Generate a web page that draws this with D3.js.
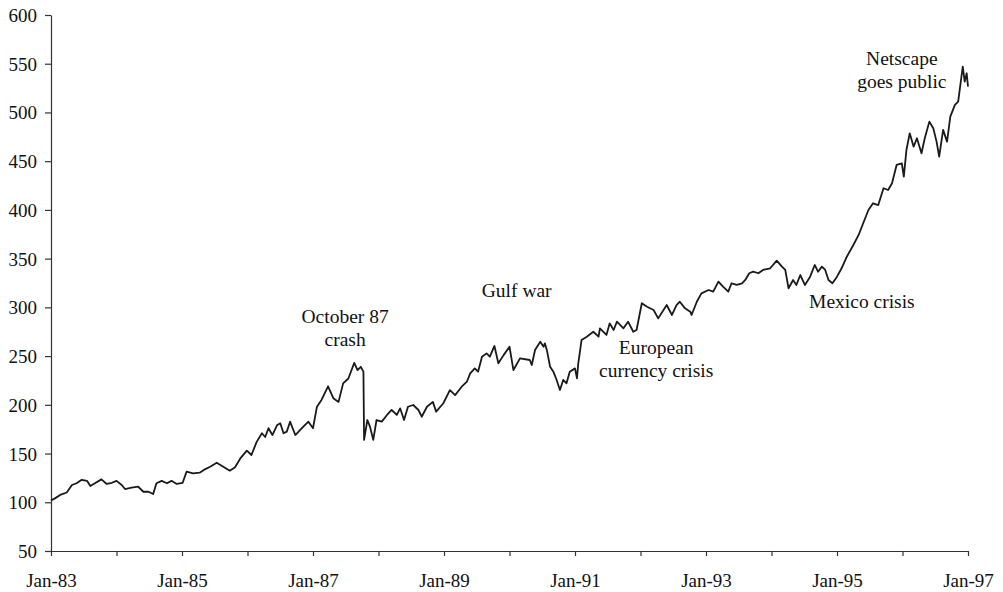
<!DOCTYPE html>
<html>
<head>
<meta charset="utf-8">
<script src="https://cdn.jsdelivr.net/npm/d3@7"></script>
<style>
  html, body { margin: 0; padding: 0; background: #fff; }
  svg text { font-family: "Liberation Serif", "Times New Roman", serif; fill: #111; }
</style>
</head>
<body>
<svg id="chart" width="1003" height="592"></svg>
<script>
// Decimal years
const dates = [
  1983.00,1983.06,1983.14,1983.24,1983.32,1983.39,1983.47,1983.55,1983.60,1983.67,
  1983.77,1983.85,1983.93,1984.00,1984.08,1984.13,1984.23,1984.33,1984.41,1984.49,
  1984.56,1984.61,1984.69,1984.77,1984.84,1984.92,1985.01,1985.07,1985.17,1985.27,
  1985.35,1985.43,1985.53,1985.63,1985.73,1985.81,1985.89,1985.99,1986.06,1986.14,
  1986.22,1986.27,1986.32,1986.38,1986.45,1986.50,1986.55,1986.60,
  1986.65,1986.73,1986.83,1986.93,1987.00,1987.06,1987.13,1987.23,1987.31,1987.39,
  1987.46,1987.54,1987.63,1987.68,1987.73,1987.77,1987.78,1987.83,1987.87,1987.92,
  1987.97,1988.05,1988.13,1988.20,1988.28,1988.33,1988.39,1988.45,1988.53,1988.61,
  1988.66,1988.74,1988.83,1988.88,1988.99,1989.09,1989.17,1989.27,1989.35,1989.40,
  1989.47,1989.52,1989.58,1989.65,1989.70,1989.77,1989.83,1989.91,1990.00,
  1990.06,1990.16,1990.31,1990.34,1990.39,1990.47,1990.52,1990.54,1990.57,1990.62,
  1990.67,1990.72,1990.77,1990.82,1990.87,1990.92,1991.00,1991.03,1991.05,1991.10,
  1991.18,1991.28,1991.36,1991.38,1991.48,1991.53,1991.59,1991.64,1991.74,1991.81,
  1991.89,1991.94,1992.02,1992.10,1992.20,1992.27,1992.40,1992.48,1992.55,1992.60,
  1992.68,1992.76,1992.78,1992.86,1992.93,1993.04,1993.11,1993.19,1993.26,1993.34,
  1993.39,1993.47,1993.55,1993.60,1993.66,
  1993.72,1993.80,1993.87,1993.98,1994.08,1994.16,1994.21,1994.26,1994.33,1994.38,
  1994.44,1994.51,1994.59,1994.66,1994.71,1994.77,1994.82,1994.87,1994.93,1995.00,
  1995.07,1995.15,1995.25,1995.33,1995.40,1995.48,1995.55,1995.63,1995.71,1995.78,
  1995.84,1995.91,1995.99,1996.02,1996.06,1996.11,1996.17,1996.22,1996.29,1996.34,
  1996.41,1996.47,1996.52,1996.56,1996.62,1996.68,1996.73,1996.80,1996.85,1996.92,
  1996.95,1996.98,1997.00
];
const values = [
  102,104,107.5,110,117.7,119.5,123,122,116.7,119.5,
  123.5,118.8,120,122,117.7,113.6,115,116,110.8,110.8,
  108.5,119.5,122,119.5,122,118.8,120,131.4,129.7,130.4,
  133.8,136.5,140.6,136.5,132.4,135.9,145,153,148.5,162,
  170.8,167,176,169,179,181,170.8,172.5,
  182.7,169,176,182.7,176,198,205,219,206.8,203,
  222,227,243,235.7,239,234,164,184.4,177.6,164,
  184.4,182.7,189.6,194.7,189.6,196.4,184.4,198,199.8,194.7,
  187.8,198,203,193,201.6,215,210,218.6,223.7,232.3,
  237.4,234,249.4,252.8,249.4,260.4,242.6,251,259.6,
  235.7,247.7,246,240.9,256.3,264.8,259.6,263.1,256.3,239.1,
  234,225.5,215.2,225.5,222.1,234,237.4,227.2,242.6,266.5,
  269.9,275,269.9,278.5,271.7,283.6,276.8,285.3,278.5,285.3,
  275,276.8,304.2,300.7,297.3,288.7,302.4,292.2,302.4,305.8,
  299,295.6,292.2,305.8,314.4,317.8,316.1,326.4,321.2,316.1,
  324.7,323,324.7,328.1,335,
  336.6,335,338.4,340.1,347.9,341.8,338.4,319.6,328.1,323,
  333.2,323,331.5,343.5,336.6,341.8,338.4,328.1,324.7,331.5,
  340.1,352,364,374.3,386.3,399.9,406.8,405,422.2,420.4,
  427.3,446.1,447.8,434.1,461.5,478.6,464.9,473.5,458.1,473.5,
  490.6,483.8,470.1,454.7,482.1,470.1,495.7,507.7,511.1,547,
  531.6,540.2,526.5
];
const yTicks = [50,100,150,200,250,300,350,400,450,500,550,600];
const xTickYears = [1983,1984,1985,1986,1987,1988,1989,1990,1991,1992,1993,1994,1995,1996,1997];
const xLabelYears = [1983,1985,1987,1989,1991,1993,1995,1997];
const xLabels = ["Jan-83","Jan-85","Jan-87","Jan-89","Jan-91","Jan-93","Jan-95","Jan-97"];
const annotations = [
  {lines: ["October 87", "crash"], date: 1987.49, value: 284.3},
  {lines: ["Gulf war"], date: 1990.11, value: 311},
  {lines: ["European", "currency crisis"], date: 1992.24, value: 252.2},
  {lines: ["Mexico crisis"], date: 1995.38, value: 299.7},
  {lines: ["Netscape", "goes public"], date: 1995.99, value: 548.7}
];

const svg = d3.select("#chart");
const x = d3.scaleLinear().domain([1983, 1997]).range([51, 968]);
const y = d3.scaleLinear().domain([50, 600]).range([551, 15]);

const data = dates.map((d, i) => ({d, v: values[i]}));

// axes
const xAxis = d3.axisBottom(x).tickValues(xTickYears).tickSize(5).tickSizeOuter(0)
  .tickFormat(d => { const i = xLabelYears.indexOf(d); return i >= 0 ? xLabels[i] : ""; });
const gx = svg.append("g").attr("transform", `translate(0,${y(50)})`).call(xAxis);
gx.select(".domain").attr("stroke", "#333").attr("stroke-width", 1.2);
gx.selectAll(".tick line").attr("stroke", "#333").attr("stroke-width", 1.2);
gx.selectAll(".tick text").attr("font-size", 19).attr("dy", 0).attr("y", 35.5)
  .attr("font-family", "Liberation Serif").attr("fill", "#111");

const yAxis = d3.axisLeft(y).tickValues(yTicks).tickSize(6).tickSizeOuter(0).tickFormat(d3.format("d"));
const gy = svg.append("g").attr("transform", `translate(${x(1983)},0)`).call(yAxis);
gy.select(".domain").attr("stroke", "#333").attr("stroke-width", 1.2);
gy.selectAll(".tick line").attr("stroke", "#333").attr("stroke-width", 1.2);
gy.selectAll(".tick text").attr("font-size", 19).attr("x", -14).attr("dy", "0.34em")
  .attr("font-family", "Liberation Serif").attr("fill", "#111");

// line
const line = d3.line().x(p => x(p.d)).y(p => y(p.v));
svg.append("path").datum(data).attr("d", line)
  .attr("fill", "none").attr("stroke", "#1a1a1a").attr("stroke-width", 1.8)
  .attr("stroke-linejoin", "round");

// annotations
annotations.forEach(a => {
  const t = svg.append("text").attr("text-anchor", "middle").attr("font-size", 19.5)
    .attr("x", x(a.date)).attr("y", y(a.value));
  a.lines.forEach((ln, i) => {
    t.append("tspan").attr("x", x(a.date)).attr("dy", i === 0 ? 0 : 23).text(ln);
  });
});
</script>
</body>
</html>
